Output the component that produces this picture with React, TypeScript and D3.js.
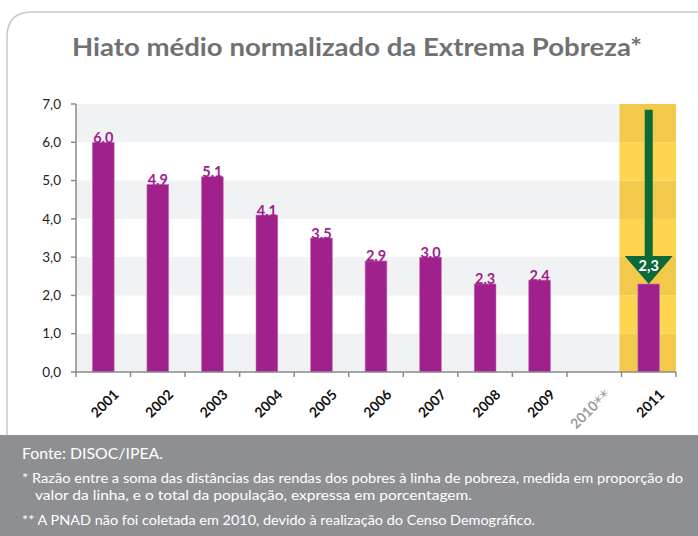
import React from "react";
import * as d3 from "d3";

const years = ["2001", "2002", "2003", "2004", "2005", "2006", "2007", "2008", "2009", "2010**", "2011"];
const values: (number | null)[] = [6.0, 4.9, 5.1, 4.1, 3.5, 2.9, 3.0, 2.3, 2.4, null, 2.3];
const yTicks = [0, 1, 2, 3, 4, 5, 6, 7];
const highlightYear = "2011";
const arrowFrom = 6.85;
const arrowHeadTop = 3.03;

const title = "Hiato médio normalizado da Extrema Pobreza*";
const sourceText = "Fonte: DISOC/IPEA.";
const note1a = "* Razão entre a soma das distâncias das rendas dos pobres à linha de pobreza, medida em proporção do";
const note1b = "valor da linha, e o total da população, expressa em porcentagem.";
const note2 = "** A  PNAD não foi coletada em 2010, devido à realização do Censo Demográfico.";

const W = 698;
const H = 536;
const FONT = "Lato, 'Open Sans', sans-serif";

export default function App() {
  const left = 76, right = 676, top = 104, bottom = 372;
  const x = d3.scaleBand<string>().domain(years).range([left, right]).paddingInner(0.6).paddingOuter(0.3);
  const xb = d3.scaleBand<string>().domain(years).range([left, right]);
  const y = d3.scaleLinear().domain([0, 7]).range([bottom, top]);
  const fmt = (v: number) => d3.format(".1f")(v).replace(".", ",");

  const hx0 = xb(highlightYear)!;
  const hw = xb.bandwidth();
  const bw = x.bandwidth();
  const hcx = x(highlightYear)! + bw / 2;
  const hv = values[years.indexOf(highlightYear)] as number;

  return (
    <svg width={W} height={H} style={{ position: "absolute", left: 0, top: 0 }} fontFamily={FONT}>
      <rect x={0} y={0} width={W} height={H} fill="#ffffff" />
      {/* card border */}
      <path d={`M7,436 L7,37 Q7,12 32,12 L${W},12`} fill="none" stroke="#c9c9c9" strokeWidth={1.5} />
      <text x={357} y={56} textAnchor="middle" fontSize={24.5} fontWeight={700} fill="#707173" textLength={570} lengthAdjust="spacingAndGlyphs">
        {title}
      </text>

      {/* bands */}
      {yTicks.slice(0, -1).map((t) => (
        t % 2 === 0 ? (
          <rect key={"b" + t} x={left} y={y(t + 1)} width={right - left} height={y(t) - y(t + 1)} fill="#f1f2f4" />
        ) : null
      ))}
      {/* highlight column */}
      {yTicks.slice(0, -1).map((t) => (
        <rect key={"h" + t} x={hx0 - 2} y={y(t + 1)} width={hw + 2} height={y(t) - y(t + 1)} fill={t % 2 === 0 ? "#f3c94c" : "#fdd54f"} />
      ))}

      {/* bars */}
      {years.map((yr, i) => {
        const v = values[i];
        if (v == null) return null;
        return <rect key={yr} x={x(yr)} y={y(v)} width={bw} height={y(0) - y(v)} fill="#a0218c" stroke="#c77fbc" strokeWidth={0.6} />;
      })}
      {years.map((yr, i) => {
        const v = values[i];
        if (v == null || yr === highlightYear) return null;
        return (
          <text key={"l" + yr} x={x(yr)! + bw / 2} y={y(v) + 0.5} textAnchor="middle" fontSize={14.5} fontWeight={700}
            fill="#a0218c">
            {fmt(v)}
          </text>
        );
      })}

      {/* arrow */}
      <rect x={hcx - 4} y={y(arrowFrom)} width={8} height={y(arrowHeadTop) - y(arrowFrom)} fill="#0b6a37" />
      <path d={`M${hcx - 24},${y(arrowHeadTop)} L${hcx + 24},${y(arrowHeadTop)} L${hcx},${y(hv)} Z`} fill="#0b6a37" />
      <text x={hcx} y={y(arrowHeadTop) + 15} textAnchor="middle" fontSize={14.5} fontWeight={700} fill="#ffffff">{fmt(hv)}</text>

      {/* axes */}
      <line x1={left} x2={left} y1={top} y2={bottom} stroke="#8a8a8a" strokeWidth={1.5} />
      {yTicks.map((t) => (
        <g key={"yt" + t}>
          <line x1={left - 5} x2={left} y1={y(t)} y2={y(t)} stroke="#8a8a8a" strokeWidth={1.5} />
          <text x={61} y={y(t)} dy="0.35em" textAnchor="end" fontSize={13.5} fill="#222">{fmt(t)}</text>
        </g>
      ))}
      <line x1={left} x2={right} y1={bottom} y2={bottom} stroke="#8a8a8a" strokeWidth={1.5} />
      {[...years.map((yr) => xb(yr)!), right].map((px, i) => (
        <line key={"xt" + i} x1={px} x2={px} y1={bottom} y2={bottom + 5} stroke="#8a8a8a" strokeWidth={1.5} />
      ))}
      {years.map((yr) => {
        const cx = xb(yr)! + xb.bandwidth() / 2;
        const gray = yr.includes("*");
        return (
          <text key={"xl" + yr} transform={`translate(${cx + 13},${392}) rotate(-45)`} textAnchor="end" dy="0.35em"
            fontSize={14} fontWeight={700} fill={gray ? "#9a9a9a" : "#111"}>
            {gray ? (
              <>
                {yr.replace(/\*/g, "")}
                <tspan fontSize={16} dy={2} fontFamily="'DejaVu Sans', sans-serif" fontWeight={400}>**</tspan>
              </>
            ) : yr}
          </text>
        );
      })}

      {/* footer */}
      <rect x={0} y={435} width={W} height={H - 435} fill="#8e8f92" />
      <text x={22} y={459} fontSize={15.5} fill="#ffffff" textLength={141} lengthAdjust="spacingAndGlyphs">{sourceText}</text>
      <text x={22} y={483} fontSize={13.5} fill="#ffffff" textLength={661} lengthAdjust="spacingAndGlyphs">{note1a}</text>
      <text x={35} y={500} fontSize={13.5} fill="#ffffff" textLength={437} lengthAdjust="spacingAndGlyphs">{note1b}</text>
      <text x={22} y={525} fontSize={13.5} fill="#ffffff" textLength={513} lengthAdjust="spacingAndGlyphs">{note2}</text>
    </svg>
  );
}
